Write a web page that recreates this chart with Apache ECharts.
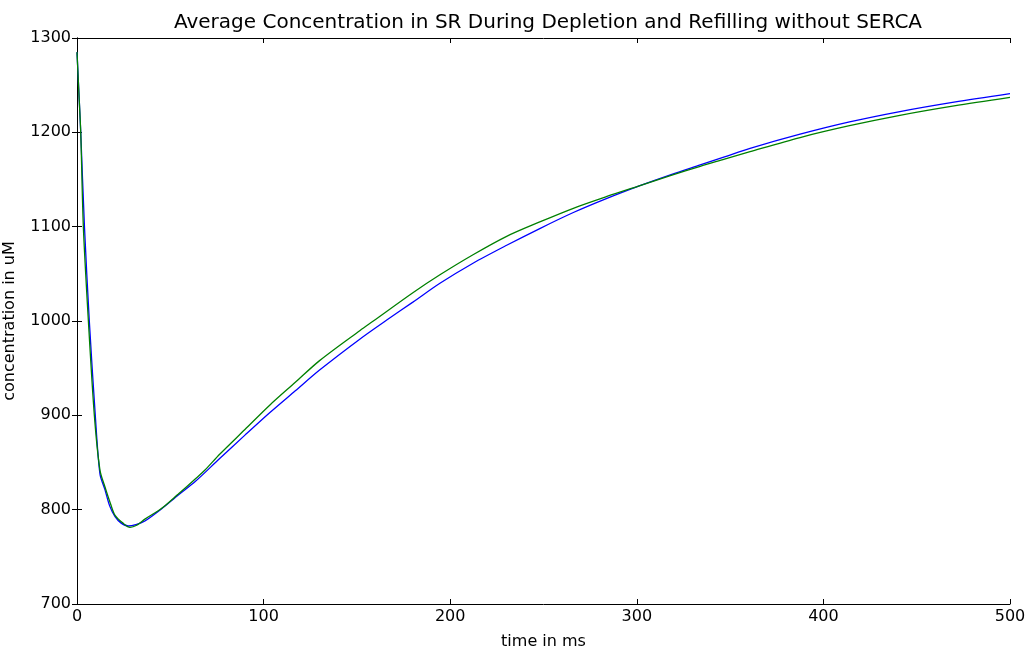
<!DOCTYPE html>
<html>
<head>
<meta charset="utf-8">
<script src="https://cdn.jsdelivr.net/npm/echarts@6/dist/echarts.min.js"></script>
<style>
  html, body { margin: 0; padding: 0; background: #fff; }
  #chart { width: 1027px; height: 646px; }
</style>
</head>
<body>
<div id="chart"></div>
<script>
// values
var timeBlue = [0, 1, 2, 4, 6.6, 9.8, 12.3, 15, 17.5, 20.4, 23.5, 27.5, 32, 36.4, 45.4, 54.3, 63.2, 76.6, 90, 103.4, 117, 130,
  151.7, 166, 180, 194.5, 212, 230, 248, 266, 284, 301.7, 318, 334, 347, 360.7, 387.5, 414, 441, 470, 500];
var concBlue = [1285, 1243, 1200, 1100, 1000, 900, 838, 821, 804, 792.6, 786, 782.7, 784.5, 788, 801, 815.6, 829.5, 854.5, 879, 903, 926, 948,
  981, 1001, 1020, 1040, 1061, 1080, 1098, 1115, 1130, 1143.5, 1155, 1165.5, 1174, 1183, 1198, 1211, 1222, 1232, 1241];

var timeGreen = [0, 1, 2, 3.4, 6.1, 9.3, 12.3, 15, 18, 20.4, 24.8, 28.4, 32, 36.4, 45.4, 54.3, 63.2, 68.6, 76.6, 90, 103.4, 117, 130,
  151.7, 158.8, 180, 194.5, 212, 230, 248, 266, 284, 301.7, 318, 334, 347, 360.7, 387.5, 414, 441, 470, 500];
var concGreen = [1285, 1242, 1200, 1100, 1000, 900, 842, 824, 806, 794, 785.5, 781.3, 783.5, 790, 801.4, 816.6, 832.2, 842, 859, 885, 911, 935, 958,
  990, 1000, 1030, 1049, 1070, 1089.5, 1105, 1119.5, 1132, 1143.5, 1154, 1164, 1171.5, 1179.5, 1194.5, 1207, 1218, 1228, 1237];

var xTicks = [0, 100, 200, 300, 400, 500];
var yTicks = [700, 800, 900, 1000, 1100, 1200, 1300];

function pairs(xs, ys) {
  var out = [];
  for (var i = 0; i < xs.length; i++) {
    out.push([xs[i], ys[i]]);
  }
  return out;
}

var font = "DejaVu Sans";
var lineStyle = { color: "#000", width: 1 };
var tickStyle = { show: true, inside: true, length: 5, lineStyle: { color: "#000", width: 1 } };

var myChart = echarts.init(document.getElementById("chart"));
myChart.setOption({
  animation: false,
  backgroundColor: "#fff",
  textStyle: { fontFamily: font },
  title: {
    text: "Average Concentration in SR During Depletion and Refilling without SERCA",
    left: 543,
    top: 8,
    textAlign: "center",
    textStyle: { fontFamily: font, fontSize: 20, fontWeight: "normal", color: "#000" }
  },
  grid: { left: 77, right: 17, top: 38, bottom: 42, outerBoundsMode: "none", containLabel: false },
  xAxis: [
    {
      type: "value",
      min: 0, max: 500, interval: 100,
      name: "time in ms",
      nameLocation: "middle",
      nameGap: 30,
      nameTextStyle: { fontFamily: font, fontSize: 16, color: "#000" },
      axisLine: { show: true, lineStyle: lineStyle },
      axisTick: tickStyle,
      axisLabel: {
        color: "#000", fontSize: 16, fontFamily: font, margin: 5,
        formatter: function(v) { return xTicks.indexOf(v) >= 0 ? String(v) : ""; }
      },
      splitLine: { show: false }
    },
    {
      type: "value",
      position: "top",
      min: 0, max: 500, interval: 100,
      axisLine: { show: true, lineStyle: lineStyle },
      axisTick: tickStyle,
      axisLabel: { show: false },
      splitLine: { show: false }
    }
  ],
  yAxis: [
    {
      type: "value",
      min: 700, max: 1300, interval: 100,
      name: "concentration in uM",
      nameLocation: "middle",
      nameGap: 59,
      nameTextStyle: { fontFamily: font, fontSize: 16, color: "#000" },
      axisLine: { show: true, lineStyle: lineStyle },
      axisTick: tickStyle,
      axisLabel: {
        color: "#000", fontSize: 16, fontFamily: font, margin: 6,
        formatter: function(v) { return yTicks.indexOf(v) >= 0 ? String(v) : ""; }
      },
      splitLine: { show: false }
    },
    {
      type: "value",
      position: "right",
      min: 700, max: 1300, interval: 100,
      axisLine: { show: true, lineStyle: lineStyle },
      axisTick: tickStyle,
      axisLabel: { show: false },
      splitLine: { show: false }
    }
  ],
  series: [
    {
      name: "blue",
      type: "line",
      data: pairs(timeBlue, concBlue),
      showSymbol: false,
      smooth: 0.3,
      lineStyle: { color: "#0000ff", width: 1.3 },
      itemStyle: { color: "#0000ff" }
    },
    {
      name: "green",
      type: "line",
      data: pairs(timeGreen, concGreen),
      showSymbol: false,
      smooth: 0.3,
      lineStyle: { color: "#008000", width: 1.3 },
      itemStyle: { color: "#008000" }
    }
  ]
});
window.onresize = function() {
  myChart.resize();
};
</script>
</body>
</html>
